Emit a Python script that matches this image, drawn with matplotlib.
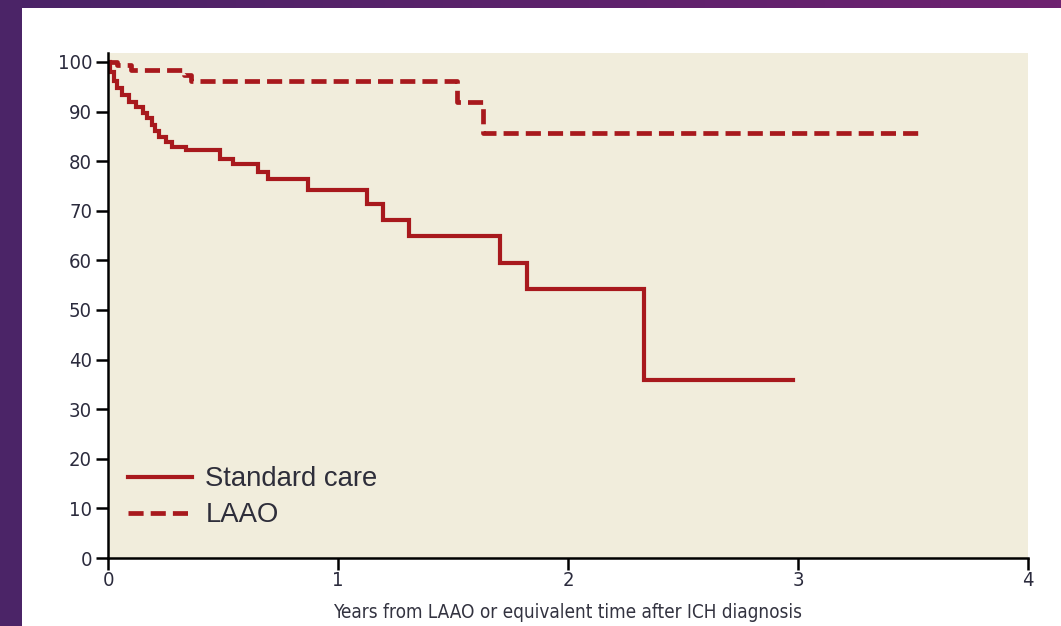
import matplotlib
matplotlib.use("Agg")
import matplotlib.pyplot as plt
from matplotlib.patches import Rectangle
import numpy as np

# Kaplan-Meier survival estimates (%), step functions
years_standard = [0, 0.01, 0.025, 0.04, 0.06, 0.09, 0.12, 0.15, 0.17, 0.19, 0.205,
                  0.22, 0.25, 0.28, 0.34, 0.487, 0.543, 0.652, 0.695, 0.87, 1.125,
                  1.194, 1.31, 1.704, 1.82, 2.332, 2.978]
surv_standard = [100, 98.0, 96.2, 94.8, 93.3, 92.0, 91.0, 89.7, 88.6, 87.3, 86.0,
                 84.9, 83.8, 82.8, 82.2, 80.4, 79.5, 77.9, 76.3, 74.1, 71.4,
                 68.1, 64.9, 59.5, 54.2, 35.9, 35.9]

years_laao = [0, 0.04, 0.10, 0.33, 0.36, 1.516, 1.63, 3.52]
surv_laao = [100, 99.4, 98.4, 97.3, 96.1, 92.0, 85.6, 85.6]

series_labels = ["Standard care", "LAAO"]
x_ticks = [0, 1, 2, 3, 4]
y_ticks = [0, 10, 20, 30, 40, 50, 60, 70, 80, 90, 100]
x_title = "Years from LAAO or equivalent time after ICH diagnosis"

RED = "#a8191d"
BEIGE = "#f1eddc"
TICK_TXT = "#2b2b3d"
NARROW = dict(family=["DejaVu Sans"], stretch="condensed")

fig = plt.figure(figsize=(10.61, 6.26), dpi=100, facecolor="white")

# purple frame along the top and left edges
fig.patches.append(Rectangle((0, 0), 22 / 1061, 1, transform=fig.transFigure,
                             facecolor="#4b2467", edgecolor="none", zorder=0))
grad = np.linspace(0, 1, 256).reshape(1, -1)
bar_ax = fig.add_axes([0, 1 - 8 / 626, 1, 8 / 626])
bar_ax.imshow(grad, aspect="auto",
              cmap=matplotlib.colors.LinearSegmentedColormap.from_list(
                  "band", ["#4a2467", "#6e2270"]))
bar_ax.axis("off")

ax = fig.add_axes([108 / 1061, 68 / 626, 920 / 1061, 505 / 626])
ax.set_facecolor(BEIGE)

ax.step(years_standard, surv_standard, where="post", color=RED, lw=3.0,
        solid_joinstyle="miter", label=series_labels[0])
ax.step(years_laao, surv_laao, where="post", color=RED, lw=3.4,
        dashes=(3.2, 1.5), label=series_labels[1])

ax.set_xlim(0, 4)
ax.set_ylim(0, 101.8)
ax.set_xticks(x_ticks)
ax.set_yticks(y_ticks)

for side in ("top", "right"):
    ax.spines[side].set_visible(False)
for side in ("left", "bottom"):
    ax.spines[side].set_linewidth(1.8)
    ax.spines[side].set_color("black")

ax.tick_params(axis="both", direction="out", length=8.5, width=1.8, color="black")
ax.tick_params(axis="y", pad=3)
ax.tick_params(axis="x", pad=1)
for lab in ax.get_xticklabels() + ax.get_yticklabels():
    lab.set_family(NARROW["family"])
    lab.set_stretch(NARROW["stretch"])
    lab.set_fontsize(14.5)
    lab.set_color(TICK_TXT)

ax.set_xlabel(x_title, fontsize=13.6, color="#333340", labelpad=9, **NARROW)

leg = ax.legend(loc="lower left", bbox_to_anchor=(2.5 / 920, 12 / 505),
                frameon=False, fontsize=19.8,
                handlelength=2.3, handletextpad=0.5, labelspacing=0.35,
                borderaxespad=0.35, borderpad=0.3)
for txt in leg.get_texts():
    txt.set_color("#2e2e3a")
    txt.set_family(["Liberation Sans", "DejaVu Sans"])

fig.savefig("out.png", dpi=100, facecolor="white")
